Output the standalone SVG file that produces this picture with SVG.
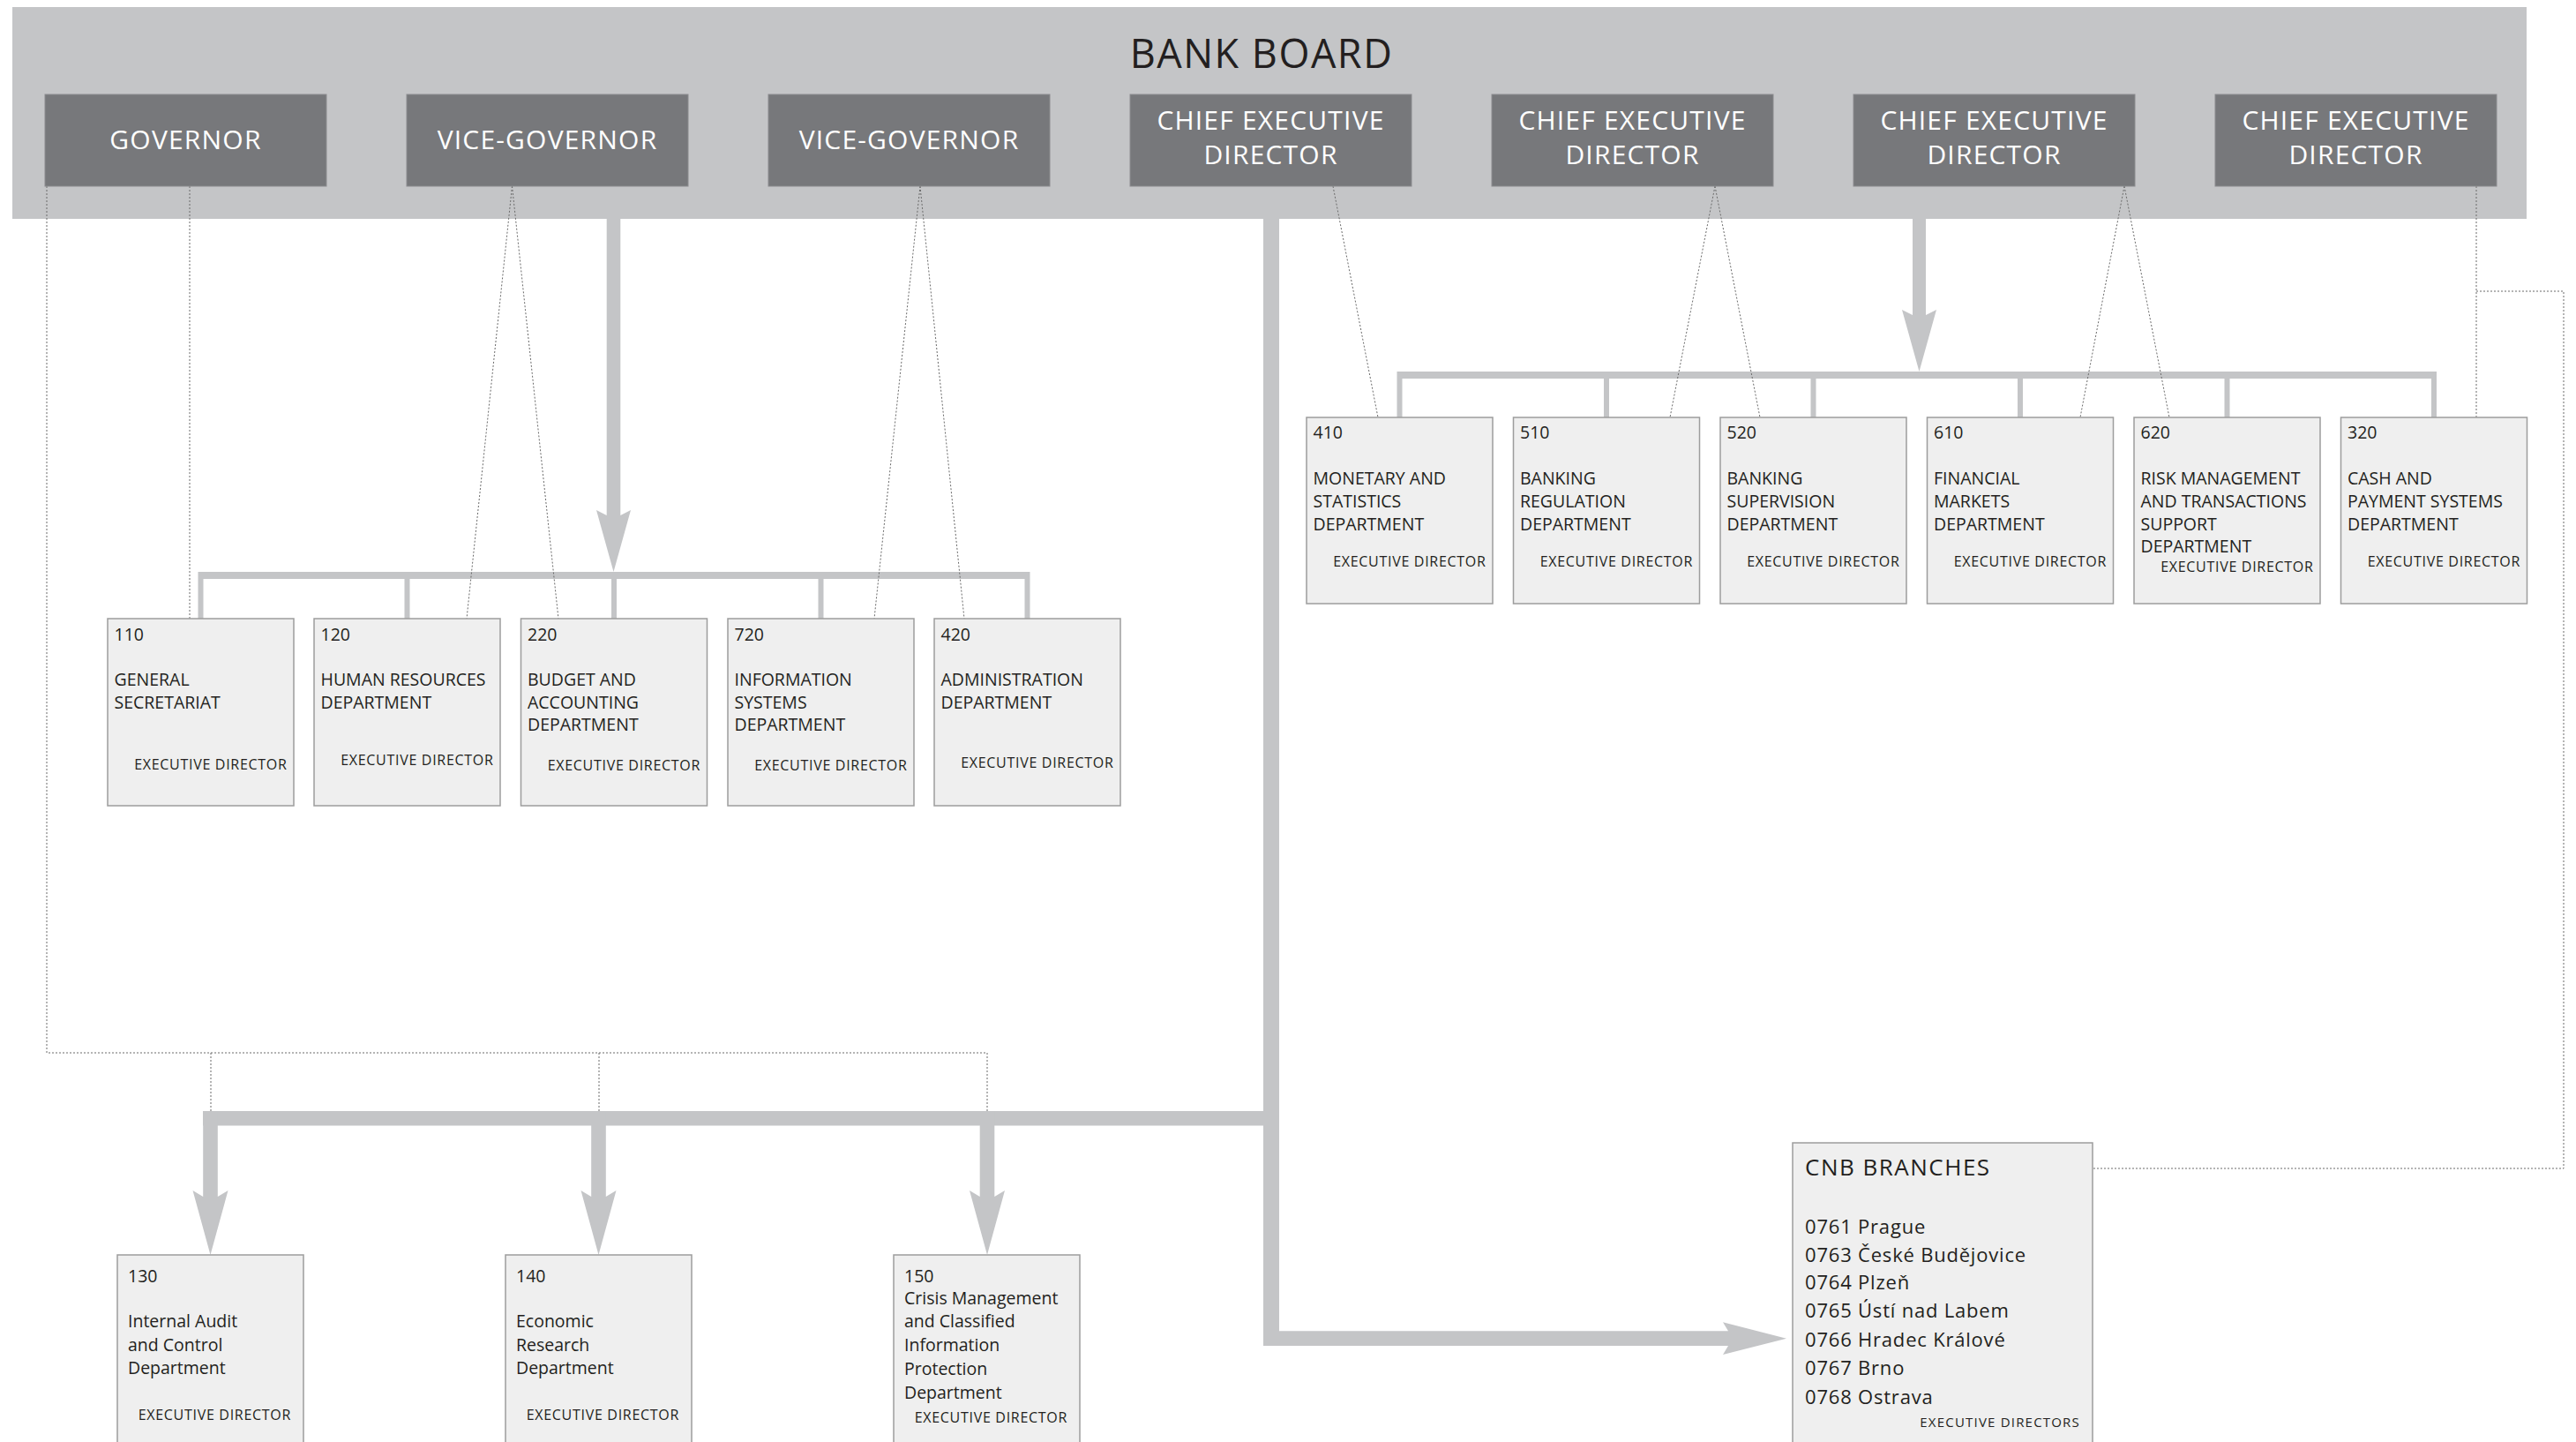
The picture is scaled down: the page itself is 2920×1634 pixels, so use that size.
<svg xmlns="http://www.w3.org/2000/svg" width="2920" height="1634" viewBox="0 0 2920 1634">
<style>
  .bg { fill: #ffffff; }
  .board { fill: #c4c5c7; }
  .exec { fill: #77787b; stroke: #8b8c8f; stroke-width: 1; }
  .exectxt { font-family: "Open Sans", "Liberation Sans", sans-serif; font-size: 30px; letter-spacing: 1.2px; fill: #ffffff; text-anchor: middle; }
  .title { font-family: "Open Sans", "Liberation Sans", sans-serif; font-size: 45px; letter-spacing: 1.5px; fill: #231f20; text-anchor: middle; }
  .thick { fill: #c4c5c7; }
  .dot { fill: none; stroke: #6a6a6a; stroke-width: 1; stroke-dasharray: 2 2; }
  .dept { fill: #efefef; stroke: #9d9d9d; stroke-width: 1.5; }
  .t { font-family: "Open Sans", "Liberation Sans", sans-serif; font-size: 19.5px; fill: #231f20; }
  .ed { font-family: "Open Sans", "Liberation Sans", sans-serif; font-size: 16px; letter-spacing: 0.7px; fill: #231f20; text-anchor: end; }
  .cnbh { font-family: "Open Sans", "Liberation Sans", sans-serif; font-size: 26px; letter-spacing: 1.5px; fill: #231f20; }
  .cnb { font-family: "Open Sans", "Liberation Sans", sans-serif; font-size: 22px; letter-spacing: 0.8px; fill: #231f20; }
  .eds { font-family: "Open Sans", "Liberation Sans", sans-serif; font-size: 15px; letter-spacing: 1.2px; fill: #231f20; text-anchor: end; }
</style>
<rect class="bg" x="0" y="0" width="2920" height="1634"/>

<g id="bank-board">
  <rect class="board" x="14" y="8" width="2850" height="240"/>
  <text class="title" x="1430" y="77">BANK BOARD</text>
</g>

<g id="connectors">
  <!-- thick arrows -->
  <polygon class="thick" points="687.7,248 687.7,584 676,578 695.5,648 715,578 703.3,584 703.3,248"/>
  <rect class="thick" x="224.5" y="648" width="943" height="8"/>
  <rect class="thick" x="224.5" y="656" width="6" height="45"/>
  <rect class="thick" x="458.5" y="656" width="6" height="45"/>
  <rect class="thick" x="693" y="656" width="6" height="45"/>
  <rect class="thick" x="927.5" y="656" width="6" height="45"/>
  <rect class="thick" x="1161.5" y="656" width="6" height="45"/>

  <polygon class="thick" points="2168,248 2168,357 2156,351 2175.5,421 2195,351 2183,357 2183,248"/>
  <rect class="thick" x="1583.5" y="421" width="1178.5" height="8"/>
  <rect class="thick" x="1583.5" y="429" width="6" height="44"/>
  <rect class="thick" x="1818" y="429" width="6" height="44"/>
  <rect class="thick" x="2052.5" y="429" width="6" height="44"/>
  <rect class="thick" x="2287" y="429" width="6" height="44"/>
  <rect class="thick" x="2521.5" y="429" width="6" height="44"/>
  <rect class="thick" x="2756" y="429" width="6" height="44"/>

  <rect class="thick" x="1432" y="248" width="18" height="1277"/>
  <rect class="thick" x="230" y="1259" width="1220" height="16.5"/>
  <polygon class="thick" points="230.2,1259 230.2,1356 218.5,1349 238.5,1422 258.5,1349 246.8,1356 246.8,1259"/>
  <polygon class="thick" points="670.2,1259 670.2,1356 658.5,1349 678.5,1422 698.5,1349 686.8,1356 686.8,1259"/>
  <polygon class="thick" points="1110.7,1259 1110.7,1356 1099,1349 1119,1422 1139,1349 1127.3,1356 1127.3,1259"/>
  <polygon class="thick" points="1432,1508.3 1959,1508.3 1953,1498.3 2025,1516.7 1953,1535 1959,1525 1432,1525"/>

  <!-- dotted lines -->
  <path class="dot" d="M53,211 V1193 H1119 V1259"/>
  <path class="dot" d="M239,1193 V1259"/>
  <path class="dot" d="M679,1193 V1259"/>
  <path class="dot" d="M215,211 V701"/>
  <path class="dot" d="M580.5,211 L529,701 M580.5,211 L633,701"/>
  <path class="dot" d="M1043,211 L991,701 M1043,211 L1093,701"/>
  <path class="dot" d="M1511,211 L1562,473"/>
  <path class="dot" d="M1944,211 L1893,473 M1944,211 L1995,473"/>
  <path class="dot" d="M2408,211 L2358,473 M2408,211 L2459,473"/>
  <path class="dot" d="M2807,211 V473"/>
  <path class="dot" d="M2807,330 H2906 V1324 H2372"/>
</g>

<g id="governor">
  <rect class="exec" x="51" y="107" width="319" height="104"/>
  <text class="exectxt" x="210.5" y="169">GOVERNOR</text>
</g>
<g id="vice-governor-1">
  <rect class="exec" x="461" y="107" width="319" height="104"/>
  <text class="exectxt" x="620.5" y="169">VICE-GOVERNOR</text>
</g>
<g id="vice-governor-2">
  <rect class="exec" x="871" y="107" width="319" height="104"/>
  <text class="exectxt" x="1030.5" y="169">VICE-GOVERNOR</text>
</g>
<g id="ced-1">
  <rect class="exec" x="1281" y="107" width="319" height="104"/>
  <text class="exectxt" x="1440.5" y="147">CHIEF EXECUTIVE</text>
  <text class="exectxt" x="1440.5" y="186">DIRECTOR</text>
</g>
<g id="ced-2">
  <rect class="exec" x="1691" y="107" width="319" height="104"/>
  <text class="exectxt" x="1850.5" y="147">CHIEF EXECUTIVE</text>
  <text class="exectxt" x="1850.5" y="186">DIRECTOR</text>
</g>
<g id="ced-3">
  <rect class="exec" x="2101" y="107" width="319" height="104"/>
  <text class="exectxt" x="2260.5" y="147">CHIEF EXECUTIVE</text>
  <text class="exectxt" x="2260.5" y="186">DIRECTOR</text>
</g>
<g id="ced-4">
  <rect class="exec" x="2511" y="107" width="319" height="104"/>
  <text class="exectxt" x="2670.5" y="147">CHIEF EXECUTIVE</text>
  <text class="exectxt" x="2670.5" y="186">DIRECTOR</text>
</g>

<!-- left departments -->
<g id="dept-110">
  <rect class="dept" x="122" y="701" width="211" height="212"/>
  <text class="t" x="129.5" y="726">110</text>
  <text class="t" x="129.5" y="777">GENERAL</text>
  <text class="t" x="129.5" y="803">SECRETARIAT</text>
  <text class="ed" x="325.5" y="872">EXECUTIVE DIRECTOR</text>
</g>
<g id="dept-120">
  <rect class="dept" x="356" y="701" width="211" height="212"/>
  <text class="t" x="363.5" y="726">120</text>
  <text class="t" x="363.5" y="777">HUMAN RESOURCES</text>
  <text class="t" x="363.5" y="803">DEPARTMENT</text>
  <text class="ed" x="559.5" y="867">EXECUTIVE DIRECTOR</text>
</g>
<g id="dept-220">
  <rect class="dept" x="590.5" y="701" width="211" height="212"/>
  <text class="t" x="598" y="726">220</text>
  <text class="t" x="598" y="777">BUDGET AND</text>
  <text class="t" x="598" y="803">ACCOUNTING</text>
  <text class="t" x="598" y="828">DEPARTMENT</text>
  <text class="ed" x="794" y="873">EXECUTIVE DIRECTOR</text>
</g>
<g id="dept-720">
  <rect class="dept" x="825" y="701" width="211" height="212"/>
  <text class="t" x="832.5" y="726">720</text>
  <text class="t" x="832.5" y="777">INFORMATION</text>
  <text class="t" x="832.5" y="803">SYSTEMS</text>
  <text class="t" x="832.5" y="828">DEPARTMENT</text>
  <text class="ed" x="1028.5" y="873">EXECUTIVE DIRECTOR</text>
</g>
<g id="dept-420">
  <rect class="dept" x="1059" y="701" width="211" height="212"/>
  <text class="t" x="1066.5" y="726">420</text>
  <text class="t" x="1066.5" y="777">ADMINISTRATION</text>
  <text class="t" x="1066.5" y="803">DEPARTMENT</text>
  <text class="ed" x="1262.5" y="870">EXECUTIVE DIRECTOR</text>
</g>

<!-- right departments -->
<g id="dept-410">
  <rect class="dept" x="1481" y="473" width="211" height="211"/>
  <text class="t" x="1488.5" y="497">410</text>
  <text class="t" x="1488.5" y="549">MONETARY AND</text>
  <text class="t" x="1488.5" y="575">STATISTICS</text>
  <text class="t" x="1488.5" y="600.5">DEPARTMENT</text>
  <text class="ed" x="1684.5" y="642">EXECUTIVE DIRECTOR</text>
</g>
<g id="dept-510">
  <rect class="dept" x="1715.5" y="473" width="211" height="211"/>
  <text class="t" x="1723" y="497">510</text>
  <text class="t" x="1723" y="549">BANKING</text>
  <text class="t" x="1723" y="575">REGULATION</text>
  <text class="t" x="1723" y="600.5">DEPARTMENT</text>
  <text class="ed" x="1919" y="642">EXECUTIVE DIRECTOR</text>
</g>
<g id="dept-520">
  <rect class="dept" x="1950" y="473" width="211" height="211"/>
  <text class="t" x="1957.5" y="497">520</text>
  <text class="t" x="1957.5" y="549">BANKING</text>
  <text class="t" x="1957.5" y="575">SUPERVISION</text>
  <text class="t" x="1957.5" y="600.5">DEPARTMENT</text>
  <text class="ed" x="2153.5" y="642">EXECUTIVE DIRECTOR</text>
</g>
<g id="dept-610">
  <rect class="dept" x="2184.5" y="473" width="211" height="211"/>
  <text class="t" x="2192" y="497">610</text>
  <text class="t" x="2192" y="549">FINANCIAL</text>
  <text class="t" x="2192" y="575">MARKETS</text>
  <text class="t" x="2192" y="600.5">DEPARTMENT</text>
  <text class="ed" x="2388" y="642">EXECUTIVE DIRECTOR</text>
</g>
<g id="dept-620">
  <rect class="dept" x="2419" y="473" width="211" height="211"/>
  <text class="t" x="2426.5" y="497">620</text>
  <text class="t" x="2426.5" y="549">RISK MANAGEMENT</text>
  <text class="t" x="2426.5" y="575">AND TRANSACTIONS</text>
  <text class="t" x="2426.5" y="600.5">SUPPORT</text>
  <text class="t" x="2426.5" y="626">DEPARTMENT</text>
  <text class="ed" x="2622.5" y="648">EXECUTIVE DIRECTOR</text>
</g>
<g id="dept-320">
  <rect class="dept" x="2653.5" y="473" width="211" height="211"/>
  <text class="t" x="2661" y="497">320</text>
  <text class="t" x="2661" y="549">CASH AND</text>
  <text class="t" x="2661" y="575">PAYMENT SYSTEMS</text>
  <text class="t" x="2661" y="600.5">DEPARTMENT</text>
  <text class="ed" x="2857" y="642">EXECUTIVE DIRECTOR</text>
</g>

<!-- lower departments -->
<g id="dept-130">
  <rect class="dept" x="133" y="1422" width="211" height="240"/>
  <text class="t" x="145" y="1452.5">130</text>
  <text class="t" x="145" y="1504">Internal Audit</text>
  <text class="t" x="145" y="1531">and Control</text>
  <text class="t" x="145" y="1557">Department</text>
  <text class="ed" x="330" y="1609">EXECUTIVE DIRECTOR</text>
</g>
<g id="dept-140">
  <rect class="dept" x="573" y="1422" width="211" height="240"/>
  <text class="t" x="585" y="1452.5">140</text>
  <text class="t" x="585" y="1504">Economic</text>
  <text class="t" x="585" y="1531">Research</text>
  <text class="t" x="585" y="1557">Department</text>
  <text class="ed" x="770" y="1609">EXECUTIVE DIRECTOR</text>
</g>
<g id="dept-150">
  <rect class="dept" x="1013" y="1422" width="211" height="240"/>
  <text class="t" x="1025" y="1452.5">150</text>
  <text class="t" x="1025" y="1478">Crisis Management</text>
  <text class="t" x="1025" y="1504">and Classified</text>
  <text class="t" x="1025" y="1531">Information</text>
  <text class="t" x="1025" y="1557.5">Protection</text>
  <text class="t" x="1025" y="1584.5">Department</text>
  <text class="ed" x="1210" y="1611.5">EXECUTIVE DIRECTOR</text>
</g>

<g id="cnb-branches">
  <rect class="dept" x="2032" y="1295" width="340" height="380"/>
  <text class="cnbh" x="2046" y="1332">CNB BRANCHES</text>
  <text class="cnb" x="2046" y="1398">0761 Prague</text>
  <text class="cnb" x="2046" y="1429.5">0763 České Budějovice</text>
  <text class="cnb" x="2046" y="1461">0764 Plzeň</text>
  <text class="cnb" x="2046" y="1493">0765 Ústí nad Labem</text>
  <text class="cnb" x="2046" y="1526">0766 Hradec Králové</text>
  <text class="cnb" x="2046" y="1558">0767 Brno</text>
  <text class="cnb" x="2046" y="1591">0768 Ostrava</text>
  <text class="eds" x="2358" y="1617">EXECUTIVE DIRECTORS</text>
</g>
</svg>
